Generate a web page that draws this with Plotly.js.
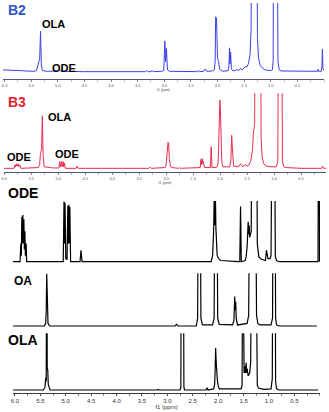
<!DOCTYPE html>
<html><head><meta charset="utf-8">
<script src="https://cdn.plot.ly/plotly-3.0.1.min.js"></script>
<style>html,body{margin:0;padding:0;background:#fff;}#chart{width:329px;height:412px;}</style>
</head><body><div id="chart"></div>
<script>
// [ppm, relative intensity] vertices (values > 1 are clipped off the top)
const b2Points = [[6.03,0.03],[5.9,0.03],[5.8,0.025],[5.7,0.02],[5.6,0.015],[5.45,0.01],[5.40,0.02],[5.37,0.12],[5.355,0.14],[5.34,0.2],[5.325,0.59],[5.31,0.1],[5.29,0.02],[5.2,0.01],[5.0,0.015],[4.97,0.03],[4.95,0.015],[4.92,0.03],[4.9,0.01],[4.5,0.005],[3.35,0.005],[3.33,0.02],[3.3,0.005],[3.25,0.005],[3.23,0.02],[3.2,0.005],[3.05,0.01],[3.01,0.02],[2.99,0.45],[2.975,0.15],[2.96,0.34],[2.94,0.03],[2.9,0.01],[2.72,0.005],[2.70,0.015],[2.68,0.005],[2.38,0.005],[2.36,0.025],[2.34,0.005],[2.26,0.01],[2.23,0.045],[2.20,0.01],[2.10,0.015],[2.06,0.03],[2.045,0.15],[2.035,0.8],[2.02,0.78],[2.0,0.2],[1.98,0.15],[1.96,0.04],[1.90,0.01],[1.80,0.02],[1.785,0.1],[1.775,0.35],[1.765,0.12],[1.755,0.29],[1.74,0.05],[1.72,0.02],[1.66,0.02],[1.64,0.04],[1.60,0.02],[1.57,0.05],[1.54,0.03],[1.50,0.06],[1.47,0.08],[1.45,0.07],[1.42,0.12],[1.39,0.25],[1.37,0.6],[1.355,3],[1.265,3],[1.25,0.5],[1.23,0.2],[1.20,0.1],[1.15,0.05],[1.10,0.03],[1.0,0.02],[0.97,0.03],[0.955,0.15],[0.945,3],[0.88,3],[0.865,0.15],[0.84,0.03],[0.80,0.015],[0.5,0.01],[0.2,0.005],[0.12,0.01],[0.11,0.04],[0.10,0.01],[0.05,0.01],[0.038,0.1],[0.03,0.33],[0.02,0.05],[0.0,0.02]];

const b3Points = [[6.006,0.0],[5.82,0.0],[5.80,0.05],[5.79,0.02],[5.77,0.06],[5.76,0.03],[5.74,0.06],[5.73,0.02],[5.71,0.04],[5.69,0.0],[5.37,0.01],[5.345,0.05],[5.33,0.2],[5.31,0.25],[5.295,0.70],[5.28,0.15],[5.26,0.02],[5.1,0.005],[4.985,0.005],[4.975,0.09],[4.965,0.02],[4.94,0.09],[4.93,0.02],[4.91,0.09],[4.90,0.02],[4.885,0.07],[4.87,0.0],[4.67,0.0],[4.65,0.03],[4.63,0.0],[3.32,0.0],[3.30,0.015],[3.28,0.0],[3.2,0.0],[3.18,0.01],[3.16,0.0],[3.02,0.01],[3.0,0.05],[2.98,0.2],[2.965,0.35],[2.955,0.33],[2.94,0.12],[2.92,0.03],[2.90,0.01],[2.77,0.0],[2.75,0.01],[2.73,0.0],[2.37,0.01],[2.355,0.12],[2.345,0.05],[2.33,0.13],[2.32,0.06],[2.31,0.09],[2.29,0.01],[2.18,0.01],[2.165,0.29],[2.15,0.01],[2.07,0.01],[2.04,0.05],[2.03,0.22],[2.015,0.6],[2.005,0.91],[1.995,0.8],[1.985,0.18],[1.97,0.1],[1.95,0.02],[1.82,0.02],[1.80,0.1],[1.785,0.44],[1.775,0.3],[1.765,0.1],[1.75,0.03],[1.66,0.02],[1.62,0.06],[1.58,0.02],[1.53,0.05],[1.50,0.03],[1.47,0.04],[1.43,0.1],[1.40,0.25],[1.385,0.45],[1.375,0.55],[1.36,0.6],[1.345,3],[1.255,3],[1.24,0.4],[1.22,0.15],[1.19,0.06],[1.15,0.03],[1.05,0.02],[0.96,0.02],[0.93,0.08],[0.915,3],[0.86,3],[0.845,0.1],[0.82,0.02],[0.78,0.01],[0.5,0.0],[0.12,0.0],[0.10,0.03],[0.08,0.0],[0.037,0.0]];

const odePoints = [[6.039,0],[5.90,0],[5.885,0.3],[5.875,0.1],[5.865,0.74],[5.855,0.3],[5.845,0.77],[5.835,0.3],[5.825,0.7],[5.815,0.2],[5.805,0.5],[5.795,0.1],[5.78,0.3],[5.77,0],[5.05,0],[5.035,0.99],[5.025,0.3],[5.015,0.97],[5.0,0.05],[4.975,0.04],[4.96,0.92],[4.95,0.3],[4.94,0.94],[4.93,0.3],[4.92,0.9],[4.905,0],[4.72,0],[4.70,0.19],[4.68,0],[2.14,0],[2.11,0.1],[2.09,0.5],[2.075,1.2],[2.065,0.6],[2.055,1.1],[2.045,0.55],[2.035,0.4],[2.02,0.1],[1.99,0.05],[1.95,0.02],[1.6,0],[1.575,0],[1.56,0.91],[1.545,0],[1.47,0.02],[1.45,0.08],[1.43,0.25],[1.42,0.5],[1.41,0.66],[1.40,0.45],[1.39,0.6],[1.38,0.4],[1.37,0.45],[1.35,0.5],[1.335,3],[1.245,3],[1.23,0.3],[1.20,0.08],[1.15,0.04],[1.07,0.02],[1.05,0.19],[1.035,0.1],[1.02,0.05],[0.98,0.05],[0.96,0.1],[0.935,3],[0.895,3],[0.875,0.08],[0.85,0.02],[0.8,0],[0.035,0],[0.025,3],[0.015,3],[0.005,0]];

const oaPoints = [[6.04,0],[5.42,0],[5.395,0.05],[5.385,0.3],[5.375,0.99],[5.365,0.3],[5.35,0.05],[5.32,0],[2.85,0],[2.82,0.03],[2.79,0],[2.43,0],[2.405,0.15],[2.39,3],[2.355,3],[2.34,0.15],[2.31,0.02],[2.11,0.02],[2.08,0.15],[2.065,3],[2.025,3],[2.01,0.15],[1.98,0.03],[1.72,0.02],[1.69,0.1],[1.675,0.56],[1.665,0.3],[1.655,0.46],[1.645,0.15],[1.62,0.02],[1.43,0.05],[1.40,0.2],[1.38,3],[1.265,3],[1.245,0.2],[1.22,0.05],[1.18,0.02],[0.96,0.02],[0.93,0.15],[0.92,3],[0.88,3],[0.87,0.15],[0.85,0.02],[0.8,0],[0.06,0]];

const olaPoints = [[6.04,0],[5.44,0],[5.41,0.05],[5.395,0.22],[5.385,0.15],[5.375,3],[5.365,0.39],[5.355,0.35],[5.345,0.1],[5.33,0.05],[5.31,0],[3.2,0],[3.18,0.01],[3.16,0],[2.75,0],[2.735,0.05],[2.725,3],[2.685,3],[2.675,0.05],[2.66,0],[2.24,0],[2.22,0.04],[2.20,0],[2.09,0.02],[2.07,0.1],[2.06,0.35],[2.05,0.74],[2.04,0.5],[2.03,0.2],[2.015,0.16],[2.0,0.08],[1.98,0.02],[1.55,0.02],[1.53,0.08],[1.515,3],[1.505,0.4],[1.49,0.3],[1.475,0.42],[1.465,0.3],[1.45,0.48],[1.44,0.3],[1.43,0.38],[1.41,0.25],[1.38,0.3],[1.36,0.5],[1.345,3],[1.26,3],[1.245,0.3],[1.23,0.08],[1.2,0.03],[1.1,0.01],[0.96,0.02],[0.935,0.2],[0.925,3],[0.88,3],[0.87,0.15],[0.85,0.02],[0.8,0],[0.035,0]];

const tickVals = [6.0,5.5,5.0,4.5,4.0,3.5,3.0,2.5,2.0,1.5,1.0,0.5];
const tickText = ['6.0','5.5','5.0','4.5','4.0','3.5','3.0','2.5','2.0','1.5','1.0','0.5'];
const axisTitle = 'f1 (ppm)';

const W = 329, H = 412;
const fx = px => px / W;
const fy = py => 1 - py / H;

function tr(pts, xa, ya, color, width) {
  return {x: pts.map(p => p[0]), y: pts.map(p => p[1]), xaxis: xa, yaxis: ya,
    type: 'scatter', mode: 'lines', line: {color: color, width: width}, hoverinfo: 'skip'};
}
const data = [
  tr(b2Points, 'x', 'y', '#3b3fe6', 1),
  tr(b3Points, 'x2', 'y2', '#ea2a4e', 1),
  tr(odePoints, 'x3', 'y3', '#000000', 1.2),
  tr(oaPoints, 'x4', 'y4', '#000000', 1.2),
  tr(olaPoints, 'x5', 'y5', '#000000', 1.2)
];

function smallX(dom, range, anchor) {
  return {domain: dom, range: range, anchor: anchor, showline: true, linecolor: '#50587a', linewidth: 1,
    ticks: 'outside', ticklen: 2, tickcolor: '#666', tickwidth: 0.6, tickmode: 'array', tickvals: tickVals, ticktext: tickText,
    minor: {ticks: 'outside', ticklen: 1.5, tickcolor: '#777', tickwidth: 0.5, tick0: 0, dtick: 0.25},
    tickfont: {size: 4, color: '#555', family: 'Liberation Sans, Arial, sans-serif'},
    title: {text: axisTitle, font: {size: 3.5, color: '#555'}, standoff: 0},
    showgrid: false, zeroline: false, fixedrange: true};
}
function hiddenX(range, anchor) {
  return {domain: [fx(13), fx(320)], range: range, anchor: anchor, visible: false, showgrid: false, zeroline: false};
}
function hiddenY(dom, range, anchor) {
  return {domain: dom, range: range, anchor: anchor, visible: false, showgrid: false, zeroline: false, fixedrange: true};
}
const bottomRange = [6.039, -0.004];

const layout = {
  width: W, height: H, margin: {l: 0, r: 0, t: 0, b: 0},
  paper_bgcolor: '#ffffff', plot_bgcolor: 'rgba(0,0,0,0)', showlegend: false,
  font: {family: 'Liberation Sans, Arial, sans-serif', color: '#000'},
  xaxis: smallX([fx(3), fx(324)], [6.03, 0.0], 'y'),
  yaxis: hiddenY([fy(79), fy(3)], [-0.1014, 1], 'x'),
  xaxis2: smallX([fx(4), fx(326)], [6.006, 0.037], 'y2'),
  yaxis2: hiddenY([fy(172), fy(93.3)], [-0.049, 1], 'x2'),
  xaxis3: hiddenX(bottomRange, 'y3'),
  yaxis3: hiddenY([fy(263), fy(201)], [-0.021, 1], 'x3'),
  xaxis4: hiddenX(bottomRange, 'y4'),
  yaxis4: hiddenY([fy(327), fy(273.3)], [-0.019, 1], 'x4'),
  xaxis5: {domain: [fx(13), fx(320)], range: bottomRange, anchor: 'y5', showline: true, linecolor: '#3a3a3a', linewidth: 1.5,
    ticks: 'outside', ticklen: 2, tickcolor: '#444', tickwidth: 0.8, tickmode: 'array', tickvals: tickVals, ticktext: tickText,
    minor: {ticks: 'outside', ticklen: 1.5, tickcolor: '#555', tickwidth: 0.7, tick0: 0, dtick: 0.25},
    tickfont: {size: 6, color: '#333', family: 'Liberation Sans, Arial, sans-serif'},
    title: {text: axisTitle, font: {size: 6, color: '#333'}, standoff: 0},
    showgrid: false, zeroline: false, fixedrange: true},
  yaxis5: hiddenY([fy(392.5), fy(333.3)], [-0.044, 1], 'x5'),
  annotations: []
};

const panelLabels = ['B2', 'OLA', 'ODE', 'B3', 'OLA', 'ODE', 'ODE', 'ODE', 'OA', 'OLA'];
const labelX = [7, 41, 51, 7, 47, 6, 54, 7, 13, 7];
const labelY = [10, 23.5, 67.5, 102, 116.5, 156.5, 153.5, 193, 280.5, 340];
const labelSize = [14, 11, 11, 14, 11, 11, 11, 14, 12, 14];
const labelColor = ['#2d56c8', '#000', '#000', '#e8222e', '#000', '#000', '#000', '#000', '#000', '#000'];
panelLabels.forEach((t, i) => {
  layout.annotations.push({text: '<b>' + t + '</b>', xref: 'paper', yref: 'paper', x: fx(labelX[i]), y: fy(labelY[i]),
    xanchor: 'left', yanchor: 'middle', showarrow: false, borderpad: 0,
    font: {size: labelSize[i], color: labelColor[i], family: 'Liberation Sans, Arial, sans-serif'}});
});

Plotly.newPlot('chart', data, layout, {staticPlot: true, displayModeBar: false});
</script>
</body></html>
